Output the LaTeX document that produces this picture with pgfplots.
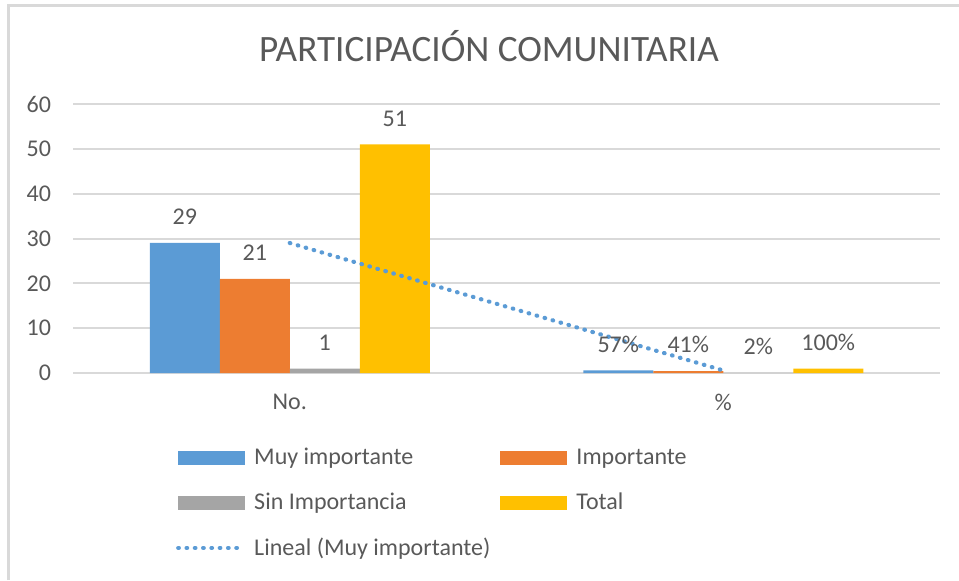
\documentclass[border=0pt]{standalone}
\usepackage{fontspec}
\setmainfont{Carlito}
\usepackage{pgfplots}
\pgfplotsset{compat=1.18}
\definecolor{cBlue}{HTML}{5B9BD5}
\definecolor{cOrange}{HTML}{ED7D31}
\definecolor{cGray}{HTML}{A5A5A5}
\definecolor{cGold}{HTML}{FFC000}
\definecolor{cText}{HTML}{595959}
\definecolor{cGrid}{HTML}{D9D9D9}
\pgfplotsset{
  mybar/.style 2 args={ybar, bar width=35pt, draw=none, fill=#1, bar shift=#2,
    nodes near coords, point meta=explicit symbolic,
    every node near coord/.append style={text=cText, font=\fontsize{12}{14}\selectfont, yshift=5.5pt, xshift=#2},
    legend image code/.code={\fill[##1] (0pt,-3.5pt) rectangle (33.5pt,3.5pt);}},
  trendleg/.style={legend image code/.code={\draw[##1] (0pt,0pt) -- (30pt,0pt);}},
}
\begin{document}
\begin{tikzpicture}
\useasboundingbox (0,0) rectangle (479.5pt,290pt);
\draw[cGrid, line width=1.2pt] (4.25pt,0) -- (4.25pt,287.25pt) -- (479.5pt,287.25pt);
\node[text=cText, font=\fontsize{18.6}{22}\selectfont] at (244.5pt,267pt) {PARTICIPACIÓN COMUNITARIA};
\begin{axis}[
  at={(36.5pt,103.5pt)}, anchor=south west,
  scale only axis, width=433.5pt, height=134.5pt,
  xmin=-0.5, xmax=1.5, ymin=0, ymax=60,
  ytick={0,10,...,60}, xtick={0,1}, xticklabels={No.,\%},
  axis line style={draw=none},
  major tick length=0pt,
  ymajorgrids, grid style={cGrid, line width=1pt},
  tick label style={text=cText, font=\fontsize{12}{14}\selectfont},
  /pgf/number format/assume math mode=true,
  yticklabel style={xshift=-7.5pt},
  xticklabel style={yshift=-7pt},
  legend columns=2,
  legend cell align=left,
  legend style={at={(axis description cs:0.1185,-0.264)}, anchor=north west,
    draw=none, fill=none, inner sep=0pt, text=cText,
    font=\fontsize{12}{14}\selectfont, row sep=8.5pt,
    /tikz/every odd column/.append style={column sep=2.5pt},
    /tikz/every even column/.append style={column sep=3pt}},
]
\addplot[mybar={cBlue}{-52.5pt}] coordinates {(0,29) [29] (1,0.57) [57\%]};
\addplot[mybar={cOrange}{-17.5pt}] coordinates {(0,21) [21] (1,0.41) [41\%]};
\addplot[mybar={cGray}{17.5pt}] coordinates {(0,1) [1] (1,0.02) [2\%]};
\addplot[mybar={cGold}{52.5pt}] coordinates {(0,51) [51] (1,1) [100\%]};
\addplot[cBlue, line width=2.1pt, line cap=round, dash pattern=on 0.3pt off 3.85pt, trendleg]
  coordinates {(0,29) (1,0.57)};
\legend{Muy importante, Importante, Sin Importancia, Total, Lineal (Muy importante)}
\end{axis}
\end{tikzpicture}
\end{document}
